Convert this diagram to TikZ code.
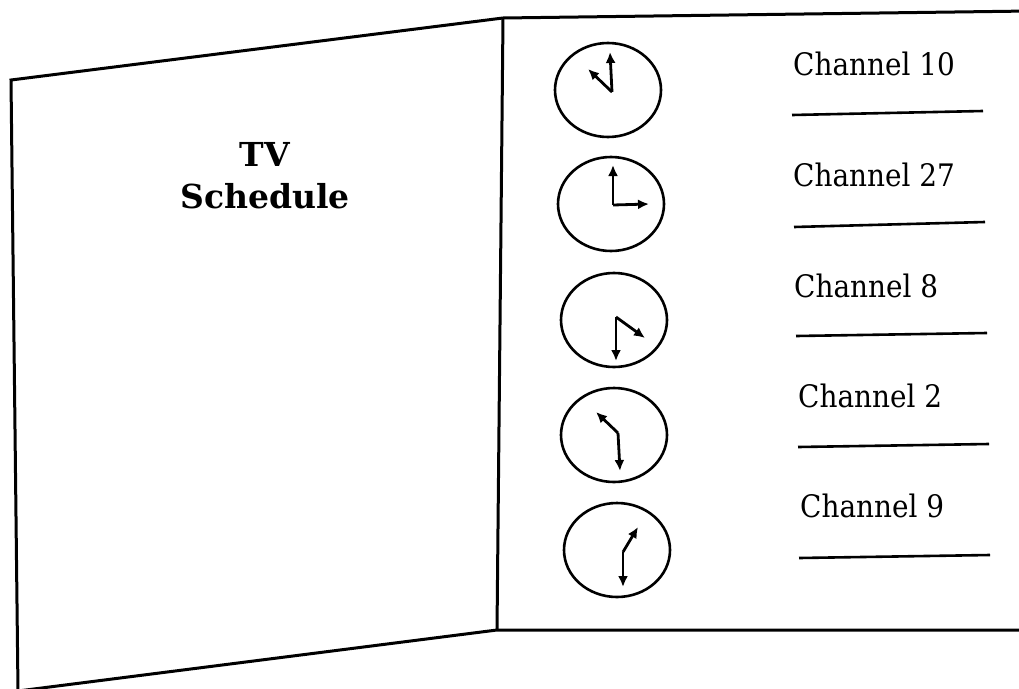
\documentclass[tikz,border=0pt]{standalone}
\usepackage{fontspec}
\setmainfont{DejaVu Serif}
\newfontfamily\chanfont{DejaVu Serif}[FakeStretch=0.9]
\usetikzlibrary{arrows.meta,shapes.geometric}

\tikzset{
  frame/.style={line width=3pt, line join=miter},
  clockface/.style={draw, ellipse, line width=2.6pt, inner sep=0pt,
    minimum width=106pt, minimum height=94pt},
  hand/.style={line width=2.8pt, -{Latex[length=11pt,width=10pt]}},
  chan/.style={anchor=base west, inner sep=0pt,
    font=\chanfont\fontsize{31}{31}\selectfont},
  blank/.style={line width=2.6pt},
  title/.style={align=center, inner sep=0pt,
    font=\bfseries\fontsize{33}{42}\selectfont}
}

\begin{document}
\begin{tikzpicture}[x=1pt, y=-1pt]
  \useasboundingbox (0,0) rectangle (1019,688);

  % folder outline: left cover and right inside page
  \coordinate (tl) at (11,80);
  \coordinate (bl) at (18,691);
  \coordinate (ft) at (503,18);
  \coordinate (fb) at (497,630);
  \coordinate (tr) at (1030,11);
  \coordinate (br) at (1030,630);
  \draw[frame] (bl) -- (tl) -- (ft) -- (tr);
  \draw[frame] (ft) -- (fb);
  \draw[frame] (bl) -- (fb) -- (br);

  % cover title
  \node[title] (ttl) at (265,176) {TV\\Schedule};

  % clock faces
  \node[clockface] (k1) at (608,90) {};
  \node[clockface] (k2) at (611,204) {};
  \node[clockface] (k3) at (614,320) {};
  \node[clockface] (k4) at (614,435) {};
  \node[clockface] (k5) at (617,550) {};

  % clock hands
  \coordinate (p1) at (612,92);
  \draw[hand] (p1) -- (610,52);
  \draw[hand] (p1) -- (588,69);

  \coordinate (p2) at (613,205);
  \draw[hand] (p2) -- (613,165);
  \draw[hand] (p2) -- (649,204);

  \coordinate (p3) at (616,317);
  \draw[hand] (p3) -- (616,361);
  \draw[hand] (p3) -- (645,338);

  \coordinate (p4) at (618,433);
  \draw[hand] (p4) -- (596,412);
  \draw[hand] (p4) -- (620,471);

  \coordinate (p5) at (623,552);
  \draw[hand] (p5) -- (638,527);
  \draw[hand] (p5) -- (623,587);

  % channel labels and answer lines
  \node[chan] (ch1) at (793,75)  {Channel 10};
  \node[chan] (ch2) at (793,186) {Channel 27};
  \node[chan] (ch3) at (794,297) {Channel 8};
  \node[chan] (ch4) at (798,407) {Channel 2};
  \node[chan] (ch5) at (800,517) {Channel 9};

  \draw[blank] (792,115) -- (983,111);
  \draw[blank] (794,227) -- (985,222);
  \draw[blank] (796,336) -- (987,333);
  \draw[blank] (798,447) -- (989,444);
  \draw[blank] (799,558) -- (990,555);
\end{tikzpicture}
\end{document}
